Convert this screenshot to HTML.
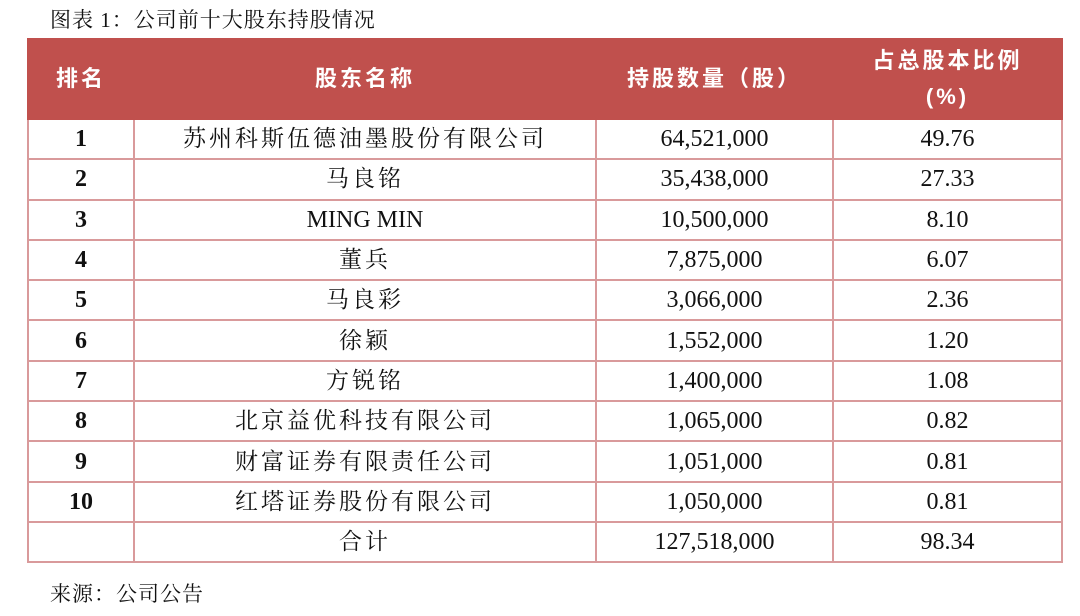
<!DOCTYPE html>
<html><head><meta charset="utf-8"><style>
body{margin:0;width:1080px;height:616px;background:#fff;position:relative;overflow:hidden;font-family:"Liberation Serif","Noto Serif CJK SC",serif;color:#111}
.t{position:absolute;left:50px;top:4px;font-size:21px;letter-spacing:1px}
.s{position:absolute;left:50px;top:578px;font-size:21px;letter-spacing:1px}
table{position:absolute;left:27px;top:38px;border-collapse:collapse;table-layout:fixed;width:1034px}
td{border:2px solid #d99a9b;text-align:center;font-size:24px;height:38.3px;padding:0;line-height:24px}
td.c{letter-spacing:3px;font-size:23px}
th{background:#c0504d;color:#fff;height:78px;font-family:"Liberation Sans","Noto Sans CJK SC",sans-serif;font-weight:bold;font-size:22px;border:2px solid #c0504d;padding:0;line-height:36px;letter-spacing:3px}
</style></head><body>
<div class="t">图表 1：公司前十大股东持股情况</div>
<table>
<colgroup><col style="width:106px"><col style="width:462px"><col style="width:237px"><col style="width:229px"></colgroup>
<tr><th>排名</th><th>股东名称</th><th>持股数量（股）</th><th>占总股本比例<br>(%)</th></tr>
<tr><td><b>1</b></td><td class="c">苏州科斯伍德油墨股份有限公司</td><td>64,521,000</td><td>49.76</td></tr>
<tr><td><b>2</b></td><td class="c">马良铭</td><td>35,438,000</td><td>27.33</td></tr>
<tr><td><b>3</b></td><td>MING MIN</td><td>10,500,000</td><td>8.10</td></tr>
<tr><td><b>4</b></td><td class="c">董兵</td><td>7,875,000</td><td>6.07</td></tr>
<tr><td><b>5</b></td><td class="c">马良彩</td><td>3,066,000</td><td>2.36</td></tr>
<tr><td><b>6</b></td><td class="c">徐颖</td><td>1,552,000</td><td>1.20</td></tr>
<tr><td><b>7</b></td><td class="c">方锐铭</td><td>1,400,000</td><td>1.08</td></tr>
<tr><td><b>8</b></td><td class="c">北京益优科技有限公司</td><td>1,065,000</td><td>0.82</td></tr>
<tr><td><b>9</b></td><td class="c">财富证券有限责任公司</td><td>1,051,000</td><td>0.81</td></tr>
<tr><td><b>10</b></td><td class="c">红塔证券股份有限公司</td><td>1,050,000</td><td>0.81</td></tr>
<tr><td></td><td class="c">合计</td><td>127,518,000</td><td>98.34</td></tr>
</table>
<div class="s">来源：公司公告</div>
</body></html>
